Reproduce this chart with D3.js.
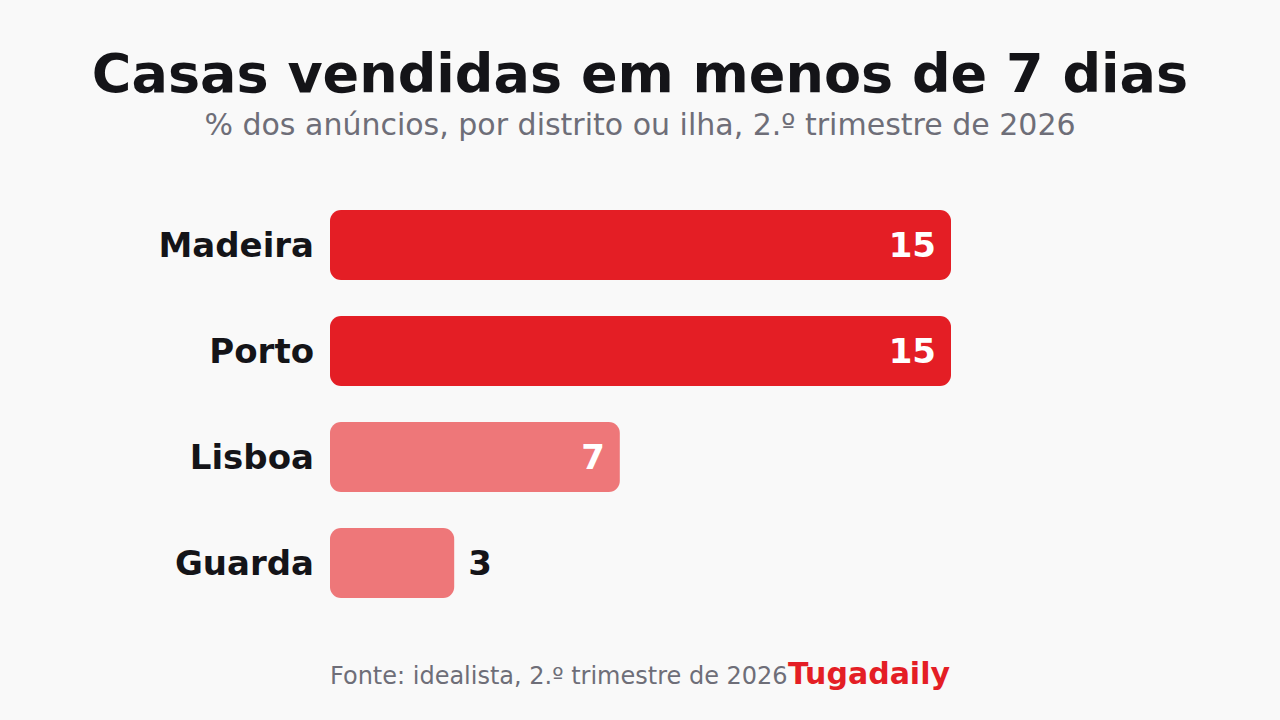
<!DOCTYPE html>
<html>
<head>
<meta charset="utf-8">
<script src="https://cdn.jsdelivr.net/npm/d3@7"></script>
<style>
  html, body { margin: 0; padding: 0; background: #f9f9f9; }
  svg { display: block; font-family: "DejaVu Sans", sans-serif; }
</style>
</head>
<body>
<svg id="chart" width="1280" height="720"></svg>
<script>
// dados
const distritos = ['Madeira', 'Porto', 'Lisboa', 'Guarda']
const valores = [15, 15, 7, 3]
const destaque = [true, true, false, false]

const W = 1280, H = 720
const svg = d3.select('#chart')

svg.append('rect').attr('width', W).attr('height', H).attr('fill', '#f9f9f9')

// titulo
svg.append('text')
    .attr('x', W / 2).attr('y', 92)
    .attr('text-anchor', 'middle')
    .attr('font-size', 54).attr('font-weight', 'bold')
    .attr('fill', '#141418')
    .text('Casas vendidas em menos de 7 dias')

svg.append('text')
    .attr('x', W / 2).attr('y', 135)
    .attr('text-anchor', 'middle')
    .attr('font-size', 30)
    .attr('fill', '#6e6e78')
    .text('% dos anúncios, por distrito ou ilha, 2.º trimestre de 2026')

// escalas
const x = d3.scaleLinear().domain([0, 15]).range([330, 951])
const y = d3.scaleBand().domain(distritos).range([192, 616])
    .paddingInner(0.34).paddingOuter(0.17)

const rows = svg.append('g').selectAll('g')
    .data(distritos.map((d, i) => ({ nome: d, v: valores[i], forte: destaque[i] })))
    .join('g')

rows.append('rect')
    .attr('x', x(0))
    .attr('y', d => y(d.nome))
    .attr('width', d => x(d.v) - x(0))
    .attr('height', y.bandwidth())
    .attr('rx', 11)
    .attr('fill', d => d.forte ? '#e41e25' : '#ee7779')

rows.append('text')
    .attr('x', x(0) - 16)
    .attr('y', d => y(d.nome) + y.bandwidth() / 2)
    .attr('dy', '0.36em')
    .attr('text-anchor', 'end')
    .attr('font-size', 34).attr('font-weight', 'bold')
    .attr('fill', '#141418')
    .text(d => d.nome)

// valores: dentro da barra se couber
rows.append('text')
    .attr('x', d => d.v >= 5 ? x(d.v) - 15 : x(d.v) + 14)
    .attr('y', d => y(d.nome) + y.bandwidth() / 2)
    .attr('dy', '0.36em')
    .attr('text-anchor', d => d.v >= 5 ? 'end' : 'start')
    .attr('font-size', 34).attr('font-weight', 'bold')
    .attr('fill', d => d.v >= 5 ? '#ffffff' : '#141418')
    .text(d => d.v)

// rodape
svg.append('text')
    .attr('x', 330).attr('y', 684)
    .attr('font-size', 24)
    .attr('fill', '#6e6e78')
    .text('Fonte: idealista, 2.º trimestre de 2026')

svg.append('text')
    .attr('x', 950).attr('y', 684)
    .attr('text-anchor', 'end')
    .attr('font-size', 30).attr('font-weight', 'bold')
    .attr('fill', '#e41e25')
    .text('Tugadaily')
</script>
</body>
</html>
